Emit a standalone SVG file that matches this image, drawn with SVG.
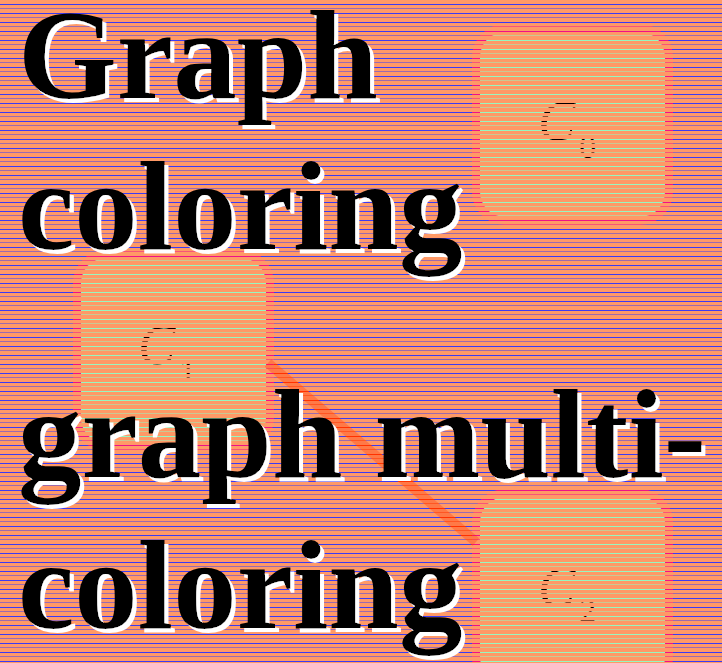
<svg xmlns="http://www.w3.org/2000/svg" xmlns:xlink="http://www.w3.org/1999/xlink" width="722" height="663" viewBox="0 0 722 663">
  <style>
    .box { fill: #96f7c0; stroke: #ee1188; stroke-width: 16; paint-order: stroke; }
    .lbl { font-family: "Liberation Serif", "Times New Roman", serif; fill: #000; }
    .lbl .c { font-style: italic; font-size: 56px; }
    .lbl .s { font-size: 34px; }
    .title { font-family: "Liberation Serif", "Times New Roman", serif; font-weight: bold; font-size: 127px; fill: #000; }
    .edge { stroke: #ff3300; stroke-width: 10; fill: none; }
  </style>
  <defs>
    <pattern id="scan" patternUnits="userSpaceOnUse" x="0" y="4" width="722" height="9">
      <rect x="0" y="1" width="722" height="3" fill="#ff9966"/>
      <rect x="0" y="4" width="722" height="1" fill="#ff9966" fill-opacity="0.5"/>
      <rect x="0" y="5" width="722" height="4" fill="#ff9966"/>
    </pattern>
    <filter id="shadow" filterUnits="userSpaceOnUse" x="0" y="0" width="722" height="663">
      <feOffset in="SourceAlpha" dx="4" dy="4" result="off"/>
      <feFlood flood-color="#ffffff"/>
      <feComposite in2="off" operator="in" result="white"/>
      <feMerge>
        <feMergeNode in="white"/>
        <feMergeNode in="SourceGraphic"/>
      </feMerge>
    </filter>
  </defs>

  <rect x="0" y="0" width="722" height="663" fill="#3a3af5"/>

  <g id="edges">
    <line id="e-c1-c2" class="edge" x1="268" y1="363" x2="476" y2="542"/>
  </g>

  <g id="node-c0">
    <rect class="box" x="480" y="32" width="185" height="185" rx="25"/>
    <text class="lbl" x="538" y="140"><tspan class="c">C</tspan><tspan class="s" dx="4" dy="18">0</tspan></text>
  </g>
  <g id="node-c1">
    <rect class="box" x="81" y="258" width="185" height="185" rx="25"/>
    <text class="lbl" x="138" y="364"><tspan class="c">C</tspan><tspan class="s" dx="4" dy="18">1</tspan></text>
  </g>
  <g id="node-c2">
    <rect class="box" x="480" y="497" width="185" height="185" rx="25"/>
    <text class="lbl" x="538" y="606"><tspan class="c">C</tspan><tspan class="s" dx="4" dy="16">2</tspan></text>
  </g>

  <rect x="0" y="0" width="722" height="663" fill="url(#scan)"/>
  <use xlink:href="#e-c1-c2" opacity="0.3"/>

  <g id="title" class="title" filter="url(#shadow)">
    <text x="18" y="98">Graph</text>
    <text x="18" y="249">coloring</text>
    <text x="18" y="477">graph multi-</text>
    <text x="18" y="628">coloring</text>
  </g>
</svg>
